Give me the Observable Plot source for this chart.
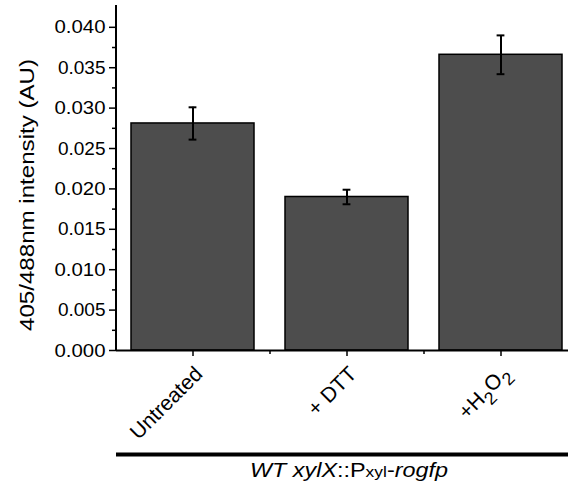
<!DOCTYPE html>
<html>
<head>
<meta charset="utf-8">
<script src="https://cdn.jsdelivr.net/npm/d3@7"></script>
<script src="https://cdn.jsdelivr.net/npm/@observablehq/plot@0.6"></script>
<style>
  html, body { margin: 0; padding: 0; background: #fff; }
  svg { font-family: "Liberation Sans", Arial, Helvetica, sans-serif; }
</style>
</head>
<body>
<div id="chart"></div>
<script>
const categories = ["Untreated", "+ DTT", "+ H2O2"];
const values = [0.0281, 0.0190, 0.0366];
const errors = [0.0020, 0.0009, 0.0024];
const majorTicks = [0, 0.005, 0.010, 0.015, 0.020, 0.025, 0.030, 0.035, 0.040];
const minorTicks = [0.0025, 0.0075, 0.0125, 0.0175, 0.0225, 0.0275, 0.0325, 0.0375];
const yLabel = "405/488nm intensity (AU)";

const data = categories.map((c, i) => ({cat: c, value: values[i], err: errors[i]}));

const W = 568, H = 486, ML = 116, MT = 5, MB = 136;
const xRange = [116, 578];
const step = (xRange[1] - xRange[0]) / 3;
const bandwidth = step * 0.8;
const capInset = (bandwidth - 8) / 2;

const font = "Liberation Sans, Arial, Helvetica, sans-serif";

const chart = Plot.plot({
  width: W,
  height: H,
  marginLeft: ML,
  marginRight: 0,
  marginTop: MT,
  marginBottom: MB,
  style: {fontFamily: font, fontSize: "19px", color: "#000", background: "#fff"},
  x: {domain: categories, range: xRange, paddingInner: 0.2, paddingOuter: 0.1, label: null},
  y: {domain: [0, 0.0427], label: null},
  marks: [
    Plot.barY(data, {x: "cat", y: "value", fill: "#4d4d4d", stroke: "#000", strokeWidth: 1.5}),
    Plot.ruleX(data, {x: "cat", y1: d => d.value - d.err, y2: d => d.value + d.err, stroke: "#000", strokeWidth: 2}),
    Plot.tickY(data, {x: "cat", y: d => d.value + d.err, stroke: "#000", strokeWidth: 2, insetLeft: capInset, insetRight: capInset}),
    Plot.tickY(data, {x: "cat", y: d => d.value - d.err, stroke: "#000", strokeWidth: 2, insetLeft: capInset, insetRight: capInset}),
    Plot.ruleY([0], {stroke: "#000", strokeWidth: 2}),
    Plot.axisY({ticks: majorTicks, tickFormat: d3.format(".3f"), tickSize: 7, tickPadding: 4, fontSize: 19, label: null, strokeWidth: 1.5}),
    Plot.axisY({ticks: minorTicks, tickFormat: () => "", tickSize: 4, label: null, strokeWidth: 1.5}),
    Plot.axisX({tickSize: 6, tickFormat: () => "", label: null, strokeWidth: 1.5}),
    Plot.axisX({tickSize: 0, tickPadding: 20, tickRotate: -45, fontSize: 21, label: null, dx: 6}),
    Plot.axisX({ticks: categories.slice(0, 2), tickFormat: () => "", tickSize: 4, dx: step / 2, label: null, strokeWidth: 1.5}),
    Plot.text([yLabel], {frameAnchor: "left", text: d => d, rotate: -90, dx: -89, dy: 17, fontSize: 21, textAnchor: "middle", lineAnchor: "middle", fill: "#000"})
  ]
});

document.getElementById("chart").appendChild(chart);

const svg = d3.select(chart);
const ys = chart.scale("y");

// y axis line
svg.append("line")
  .attr("x1", ML).attr("x2", ML)
  .attr("y1", ys.apply(ys.domain[1])).attr("y2", ys.apply(0))
  .attr("stroke", "#000").attr("stroke-width", 2);

// widen y tick labels slightly to match the reference
svg.selectAll("text").filter(function() { return /^0\.0\d0$/.test(this.textContent); })
  .attr("textLength", 51).attr("lengthAdjust", "spacingAndGlyphs");

// stretch y label to the reference length
svg.selectAll("text").filter(function() { return this.textContent === yLabel; })
  .attr("textLength", 272).attr("lengthAdjust", "spacingAndGlyphs");

// Subscripts for H2O2
svg.selectAll("text").filter(function() { return this.textContent === "+ H2O2"; }).each(function() {
  const t = d3.select(this);
  const inner = t.selectAll("tspan").size() ? t.select("tspan") : t;
  inner.text(null);
  inner.append("tspan").text("+H");
  inner.append("tspan").attr("dy", "0.4em").attr("font-size", "0.85em").text("2");
  inner.append("tspan").attr("dy", "-0.4em").text("O");
  inner.append("tspan").attr("dy", "0.4em").attr("font-size", "0.85em").text("2");
});

// Strain bar and label below the axis
svg.append("line")
  .attr("x1", ML).attr("x2", W)
  .attr("y1", 454.5).attr("y2", 454.5)
  .attr("stroke", "#000").attr("stroke-width", 4);

const title = svg.append("text")
  .attr("x", 349).attr("y", 477)
  .attr("text-anchor", "middle")
  .attr("font-size", 19.5)
  .attr("fill", "#000")
  .attr("textLength", 198)
  .attr("lengthAdjust", "spacingAndGlyphs");
title.append("tspan").attr("font-style", "italic").text("WT xylX");
title.append("tspan").text("::P");
title.append("tspan").attr("font-size", 14.5).text("xyl");
title.append("tspan").text("-");
title.append("tspan").attr("font-style", "italic").text("rogfp");
</script>
</body>
</html>
